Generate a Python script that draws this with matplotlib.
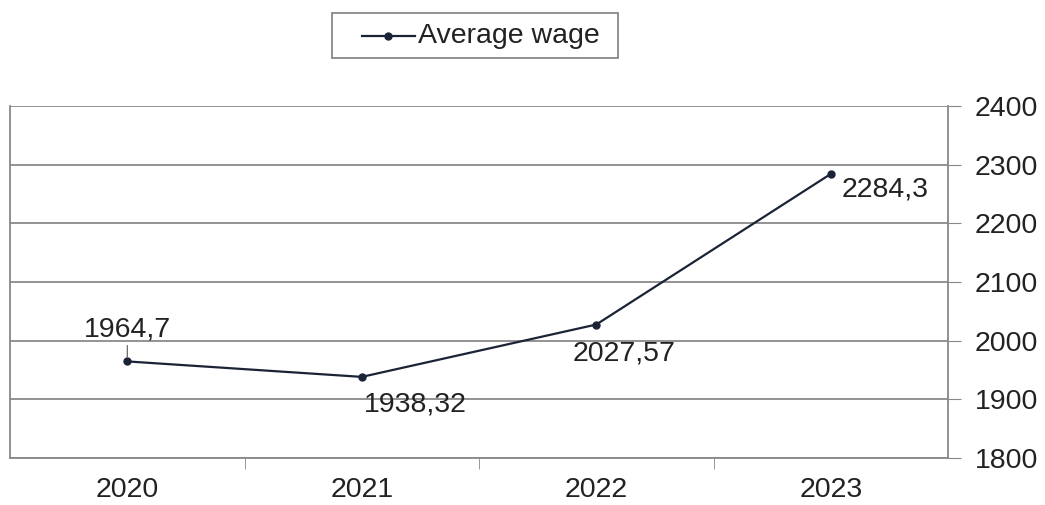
import matplotlib
matplotlib.use("Agg")
import matplotlib.pyplot as plt
from matplotlib.patches import Rectangle
from matplotlib.lines import Line2D

years = ["2020", "2021", "2022", "2023"]
wages = [1964.7, 1938.32, 2027.57, 2284.3]
wage_labels = ["1964,7", "1938,32", "2027,57", "2284,3"]
yticks = [1800, 1900, 2000, 2100, 2200, 2300, 2400]
series_name = "Average wage"

plt.rcParams['font.family'] = ['Liberation Sans', 'DejaVu Sans']

FS = 20.5
W, H = 1045, 505
fig = plt.figure(figsize=(10.45, 5.05), dpi=100)
ax = fig.add_axes([0.0096, 0.093, 0.8976, 0.697])

x = list(range(len(years)))
line_color = "#1b2336"
ax.plot(x, wages, color=line_color, lw=1.6, marker="o", ms=5, label=series_name, zorder=3)

ax.set_xlim(-0.5, len(years) - 0.5)
ax.set_ylim(1800, 2400)
ax.set_yticks(yticks)
ax.yaxis.tick_right()
ax.tick_params(axis="y", which="both", length=9, color="#888888", labelsize=FS, pad=10, labelcolor="#222222")
ax.set_xticks(x)
ax.set_xticklabels(years)
ax.tick_params(axis="x", which="major", length=0, labelsize=FS, pad=14, labelcolor="#222222")
ax.set_xticks([i + 0.5 for i in range(len(years) - 1)], minor=True)
ax.tick_params(axis="x", which="minor", length=8, color="#888888", direction="out")

ax.grid(axis="y", color="#8a8a8a", lw=1.3)
for s in ["left", "right", "bottom"]:
    ax.spines[s].set_color("#888888")
    ax.spines[s].set_linewidth(1.3)
ax.spines["top"].set_visible(False)

# data labels
ax.annotate(wage_labels[0], (x[0], wages[0]), xytext=(x[0], wages[0] + 54),
            ha="center", va="center", fontsize=FS, color="#222222",
            arrowprops=dict(arrowstyle="-", color="#555555", lw=0.8, shrinkA=12, shrinkB=3))
ax.text(x[1] + 0.23, wages[1] - 47, wage_labels[1], ha="center", va="center", fontsize=FS, color="#222222")
ax.text(x[2] + 0.12, wages[2] - 50, wage_labels[2], ha="center", va="center", fontsize=FS, color="#222222")
ax.text(x[3] + 0.23, wages[3] - 27, wage_labels[3], ha="center", va="center", fontsize=FS, color="#222222")

# legend box (drawn in figure pixel-fraction coordinates)
fig.add_artist(Rectangle((332 / W, 1 - 58 / H), 286 / W, 45 / H, transform=fig.transFigure,
                         facecolor="white", edgecolor="#888888", lw=1.3))
ly = 1 - 36 / H
fig.add_artist(Line2D([362 / W, 415 / W], [ly, ly], transform=fig.transFigure,
                      color=line_color, lw=1.6))
fig.add_artist(Line2D([388 / W], [ly], transform=fig.transFigure, color=line_color,
                      marker="o", ms=5, lw=0))
fig.text(418 / W, ly, series_name, ha="left", va="center", fontsize=FS, color="#222222")

fig.savefig("out.png", dpi=100)
